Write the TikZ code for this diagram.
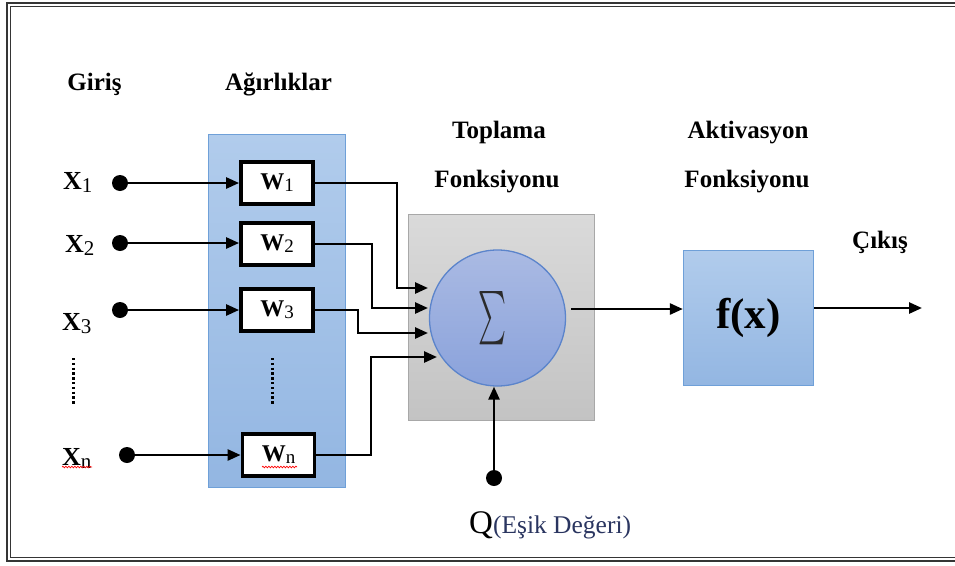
\documentclass[tikz,border=0pt]{standalone}
\usepackage{fontspec}
\setmainfont{Liberation Serif}
\usepackage{graphicx}
\usetikzlibrary{arrows.meta,decorations.pathmorphing,calc}

\definecolor{bluetop}{HTML}{B1CCEC}
\definecolor{bluebot}{HTML}{93B6E2}
\definecolor{blueedge}{HTML}{6FA0D8}
\definecolor{graytop}{HTML}{DADADA}
\definecolor{graybot}{HTML}{C3C3C3}
\definecolor{grayedge}{HTML}{A8A8A8}
\definecolor{circtop}{HTML}{AABAE3}
\definecolor{circbot}{HTML}{8AA2DB}
\definecolor{circedge}{HTML}{5B84CB}
\definecolor{framecol}{HTML}{353535}
\definecolor{qtext}{HTML}{2A3560}
\definecolor{sigcol}{HTML}{2B2B2B}

\newcommand\subidx[1]{\raisebox{-3pt}{\fontsize{21}{21}\selectfont\mdseries #1}}
\newcommand\wsub[1]{\raisebox{-2pt}{\fontsize{19}{19}\selectfont\mdseries #1}}

\begin{document}
\begin{tikzpicture}[x=1pt,y=-1pt,
  lbl/.style={font=\fontsize{25}{30}\selectfont\bfseries, inner sep=0pt, anchor=base},
  xlbl/.style={font=\fontsize{26}{30}\selectfont\bfseries, inner sep=0pt, anchor=base west},
  wbox/.style={draw=black, line width=3.8pt, fill=white, minimum width=72pt, minimum height=42pt, inner sep=0pt, font=\fontsize{24}{26}\selectfont\bfseries},
  arr/.style={line width=2.6pt, -{Triangle[length=13pt,width=11pt]}},
  dot/.style={circle, fill=black, minimum size=16pt, inner sep=0pt},
  dotline/.style={line width=3pt, dash pattern=on 2.4pt off 2.4pt},
  squiggle/.style={red, line width=0.7pt, decorate, decoration={snake, amplitude=0.8pt, segment length=3pt}},
  bluebox/.style={draw=blueedge, line width=1.3pt, top color=bluetop, bottom color=bluebot, inner sep=0pt},
  framel/.style={draw=framecol, line width=1.7pt}
]
\useasboundingbox (0,0) rectangle (955,565);
\fill[white] (0,0) rectangle (955,565);

% frame (open at right)
\draw[framel] (960,3) -- (7,3) -- (7,561) -- (960,561);
\draw[framel] (960,6.5) -- (10.5,6.5) -- (10.5,557.5) -- (960,557.5);

% headings
\node[lbl] (giris) at (94.5,90) {Giriş};
\node[lbl] (agir) at (278.5,90) {Ağırlıklar};
\node[lbl] (topl) at (499,138) {Toplama};
\node[lbl] (fonk1) at (497,187) {Fonksiyonu};
\node[lbl] (aktiv) at (748,138) {Aktivasyon};
\node[lbl] (fonk2) at (747,187) {Fonksiyonu};
\node[lbl] (cikis) at (880,248) {Çıkış};

% weight column
\node[bluebox, minimum width=136.7pt, minimum height=352.7pt] (wcol) at (277,311) {};

% weight boxes
\node[wbox] (w1) at (277,183) {W\wsub{1}};
\node[wbox] (w2) at (277,244) {W\wsub{2}};
\node[wbox] (w3) at (277,310) {W\wsub{3}};
\node[wbox] (wn) at (278.5,455) {W\wsub{n}};
\draw[dotline] (272,358) -- (272,405);

% inputs
\node[xlbl] (x1) at (63,189) {X\subidx{1}};
\node[xlbl] (x2) at (65,252) {X\subidx{2}};
\node[xlbl] (x3) at (62,330) {X\subidx{3}};
\node[xlbl] (xn) at (62,465) {X\subidx{n}};
\draw[dotline] (73,358) -- (73,405);
\draw[squiggle] (62,467) -- (92,467);
\draw[squiggle] (262,467) -- (297,467);

\node[dot] (d1) at (120,183) {};
\node[dot] (d2) at (120,243) {};
\node[dot] (d3) at (120,310) {};
\node[dot] (dn) at (127,455) {};

\draw[arr] (d1.center) -- (d1 -| w1.west);
\draw[arr] (d2.center) -- (d2 -| w2.west);
\draw[arr] (d3.center) -- (d3 -| w3.west);
\draw[arr] (dn.center) -- (dn -| wn.west);

% summation block
\node[draw=grayedge, line width=1.3pt, top color=graytop, bottom color=graybot, minimum width=186pt, minimum height=206pt, inner sep=0pt] (gbox) at (501.5,317.5) {};
\node[circle, draw=circedge, line width=1.3pt, top color=circtop, bottom color=circbot, minimum size=136pt, inner sep=0pt, text=sigcol] (sum) at (497.5,318) {\kern-10pt\resizebox{28pt}{40pt}{$\sum$}};

\coordinate (t1) at (428,288);
\coordinate (t2) at (428,308);
\coordinate (t3) at (428,333);
\coordinate (t4) at (437,357);
\draw[arr] (w1.east) -| (397,288) -- (t1);
\draw[arr] (w2.east) -| (372,308) -- (t2);
\draw[arr] (w3.east) -| (358,333) -- (t3);
\draw[arr] (wn.east) -| (371,357) -- (t4);

% threshold
\node[dot] (qdot) at (494,478) {};
\draw[arr] (qdot.center) -- (qdot |- sum.south);
\node[anchor=base west, inner sep=0pt] (qlbl) at (469,533) {\fontsize{33}{36}\selectfont Q\textcolor{qtext}{\fontsize{25.5}{30}\selectfont(Eşik Değeri)}};

% activation
\node[bluebox, minimum width=130pt, minimum height=135pt, font=\fontsize{43}{48}\selectfont\bfseries] (fx) at (748.5,318) {f(x)};
\coordinate (s1) at ($(sum.east)+(5,-9)$);
\draw[arr] (s1) -- (s1 -| fx.west);
\coordinate (out) at (922,308);
\draw[arr] (fx.east |- out) -- (out);
\end{tikzpicture}
\end{document}
